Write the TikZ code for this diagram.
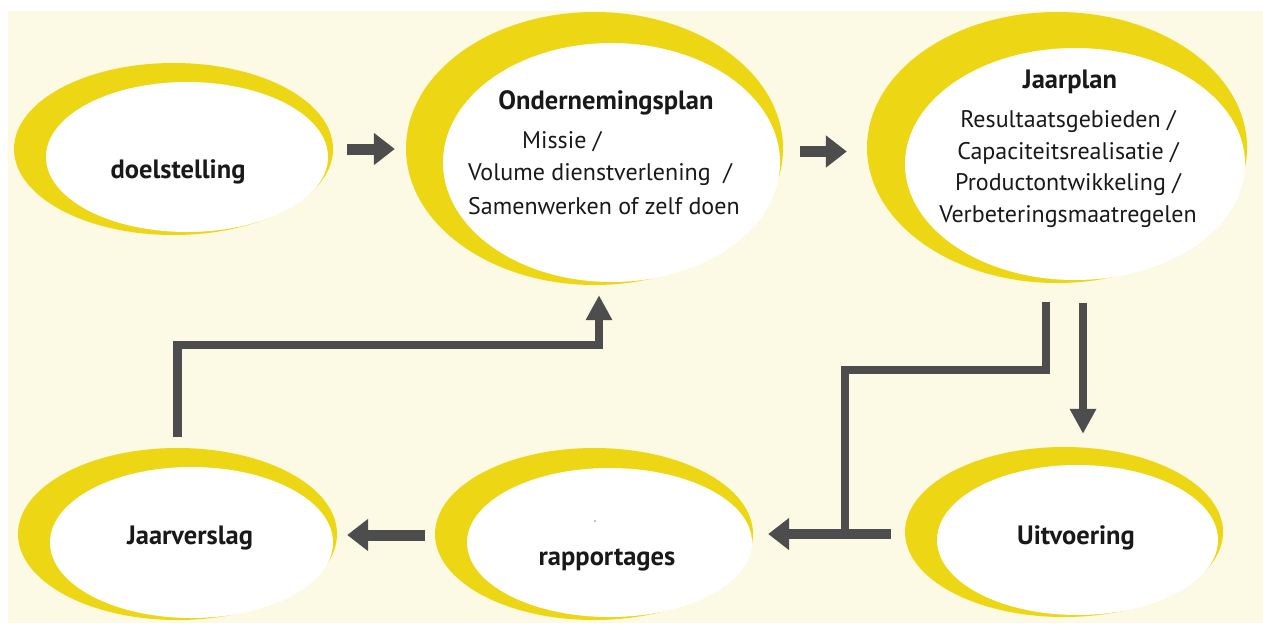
\documentclass[tikz,border=0pt]{standalone}
\usepackage{fontspec}
\setmainfont{PT Sans}
\usetikzlibrary{shapes.geometric,arrows.meta,calc}
\definecolor{ygold}{RGB}{237,214,20}
\definecolor{cream}{RGB}{252,249,229}
\definecolor{agray}{RGB}{77,77,77}
\definecolor{tblack}{RGB}{25,25,25}
\begin{document}
\begin{tikzpicture}[x=1pt,y=-1pt,
 outer/.style={ellipse,fill=ygold,inner sep=0pt,draw=none},
 inner/.style={ellipse,fill=white,inner sep=0pt,draw=none},
 lbl/.style={font=\fontsize{26.5}{30}\selectfont\bfseries,text=tblack,inner sep=0pt},
 body/.style={font=\fontsize{24}{31.7}\selectfont,text=tblack,inner sep=0pt,align=center},
 fat/.style={draw=agray,line width=11pt,-{Triangle[length=21pt,width=31pt]}},
 thin/.style={draw=agray,line width=8.5pt,line join=miter,-{Triangle[length=25pt,width=25pt]}},
 conn/.style={draw=agray,line width=8.5pt,line join=miter},
]
\useasboundingbox (0,0) rectangle (1263,626);
\fill[white] (0,0) rectangle (1263,626);
\fill[cream] (8,11) rectangle (1263,623);

% top row
\node[outer,minimum width=319pt,minimum height=172pt] (doelO) at (173.5,149) {};
\node[inner,minimum width=282pt,minimum height=150pt] (doel) at (187,157) {};
\node[lbl] (doelT) at (178,172) {doelstelling};

\node[outer,minimum width=377pt,minimum height=273pt] (ondO) at (594.5,148.5) {};
\node[inner,minimum width=337pt,minimum height=239pt] (ond) at (611.5,162.5) {};
\node[lbl] (ondT) at (606,103) {Ondernemingsplan};
\node[body,anchor=west] (ond1) at (522,142) {Missie /};
\node[body,anchor=west] (ond2) at (468,174) {Volume dienstverlening\ \ /};
\node[body,anchor=west] (ond3) at (468,206) {Samenwerken of zelf doen};

\node[outer,minimum width=380pt,minimum height=271pt] (jpO) at (1057,147.5) {};
\node[inner,minimum width=340pt,minimum height=232pt] (jp) at (1075,164) {};
\node[lbl] (jpT) at (1070,82) {Jaarplan};
\node[body] (jpB) at (1068,169) {Resultaatsgebieden /\\Capaciteitsrealisatie /\\Productontwikkeling /\\Verbeteringsmaatregelen};

% bottom row
\node[outer,minimum width=319pt,minimum height=172pt] (jvO) at (177.5,534) {};
\node[inner,minimum width=283pt,minimum height=151pt] (jv) at (191.5,542.5) {};
\node[lbl] (jvT) at (190,538) {Jaarverslag};

\node[outer,minimum width=318pt,minimum height=172pt] (rapO) at (594,534) {};
\node[inner,minimum width=285pt,minimum height=149pt] (rap) at (609.5,542.5) {};
\node[lbl] (rapT) at (607,560) {rapportages};
\fill[agray!70] (595,521) circle (0.9pt);

\node[outer,minimum width=318pt,minimum height=170pt] (uitO) at (1064,532) {};
\node[inner,minimum width=281pt,minimum height=150pt] (uit) at (1077.5,540) {};
\node[lbl] (uitT) at (1076,538) {Uitvoering};

% connectors
\draw[fat] ([xshift=14pt]doelO.east) -- ([xshift=-11pt]doelO.east -| ondO.west);
\draw[fat] ([xshift=17pt,yshift=-3pt]ondO.east) -- ([xshift=-20pt,yshift=-3pt]ondO.east -| jpO.west);

\coordinate (j1) at ($(jpO.south)+(26,20)$);
\draw[thin] (j1) -- ($(j1 |- uitO.north)+(0,-13)$);

\coordinate (j2) at ($(jpO.south)+(-11,19)$);
\coordinate (jn) at ($(uitO.west)+(-60,2)$);
\coordinate (jn2) at ($(jn)+(0,-164)$);
\draw[conn] (j2) |- (jn2) -- (jn);
\draw[fat,line width=10pt] ([xshift=-14pt,yshift=-2pt]uitO.west) -- ([xshift=15pt,yshift=-2pt]uitO.west -| rapO.east);

\draw[fat] ([xshift=-10pt,yshift=-1pt]rapO.west) -- ([xshift=10pt,yshift=-1pt]rapO.west -| jvO.east);

\coordinate (c1) at ($(ondO.south)+(4.5,60)$);
\coordinate (t1) at ($(ondO.south)+(4.5,10)$);
\draw[thin] ([yshift=11pt]jvO.north) |- (c1) -- (t1);
\end{tikzpicture}
\end{document}
